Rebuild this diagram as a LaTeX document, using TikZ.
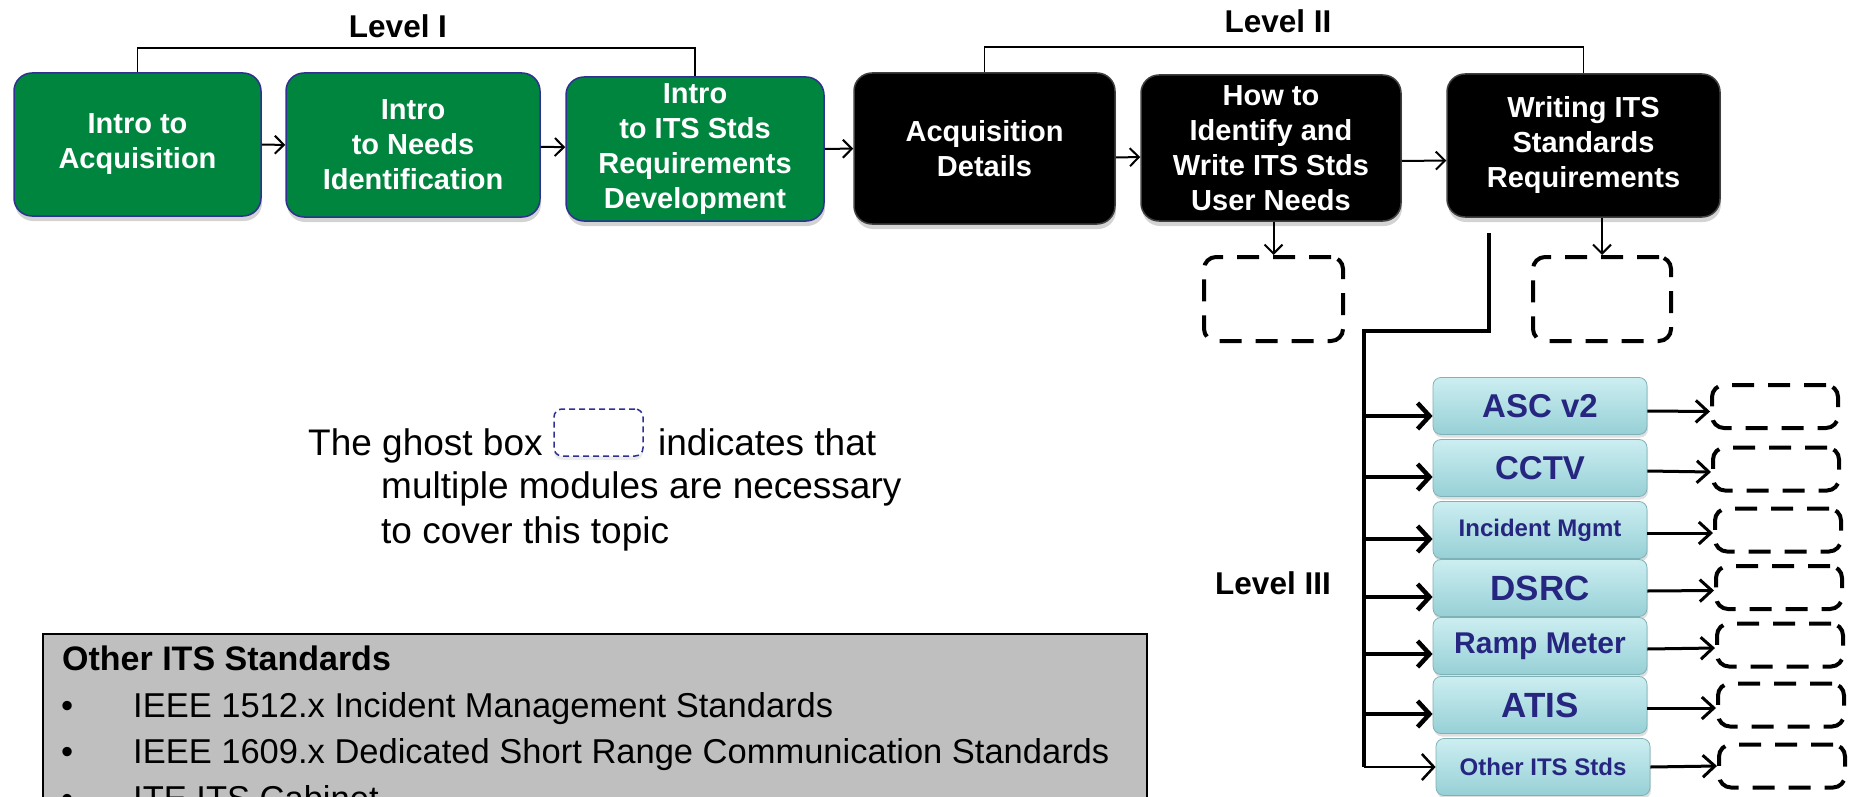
\documentclass[tikz,border=0pt]{standalone}
\usepackage{fontspec}
\setmainfont{Liberation Sans}
\usetikzlibrary{arrows.meta}
\usetikzlibrary{shadows}
\definecolor{itsgreen}{RGB}{0,133,62}
\definecolor{itsnavy}{RGB}{46,49,146}
\definecolor{stdtext}{RGB}{38,38,128}
\definecolor{stdtop}{RGB}{204,238,241}
\definecolor{stdbot}{RGB}{150,208,214}
\definecolor{panelgray}{RGB}{191,191,191}

\begin{document}
\begin{tikzpicture}[x=1pt, y=-1pt,
  level/.style={font=\bfseries\fontsize{31.5pt}{36pt}\selectfont},
  introbox/.style={rounded corners=18pt, fill=itsgreen, draw=itsnavy, line width=1.5pt, text=white, align=center, inner sep=2pt,
    font=\bfseries\fontsize{29pt}{35pt}\selectfont, drop shadow={shadow xshift=1pt, shadow yshift=-5pt, opacity=.35}},
  detailbox/.style={introbox, fill=black, draw=black!75},
  stdbox/.style={rounded corners=8pt, top color=stdtop, bottom color=stdbot, draw=stdbot!85!black, line width=.8pt, text=stdtext,
    minimum width=214pt, minimum height=57pt, inner sep=0pt, font=\bfseries\fontsize{33pt}{36pt}\selectfont,
    drop shadow={shadow xshift=1pt, shadow yshift=-3pt, opacity=.25}},
  smallstd/.style={font=\bfseries\fontsize{24pt}{26pt}\selectfont},
  bigstd/.style={font=\bfseries\fontsize{35pt}{38pt}\selectfont},
  ghost/.style={rounded corners=12pt, draw=black, line width=4pt, dash pattern=on 22pt off 14pt},
  keyghost/.style={rounded corners=8pt, draw=itsnavy, fill=white, line width=1.5pt, dash pattern=on 6pt off 4pt,
    drop shadow={shadow xshift=0pt, shadow yshift=-4pt, opacity=.15}},
  bracket/.style={draw=black, line width=1.5pt},
  flow/.style={-{Straight Barb[length=9pt,width=18pt]}, line width=2pt},
  stdarrow/.style={-{Straight Barb[length=12pt,width=22pt]}, line width=3pt},
  branch/.style={-{Straight Barb[length=12pt,width=26pt]}, line width=4.5pt},
  thinbranch/.style={branch, line width=2.5pt},
  trunkline/.style={line width=3.5pt},
  legendtext/.style={inner sep=0pt, font=\fontsize{37pt}{43pt}\selectfont},
  paneltext/.style={inner sep=0pt, font=\fontsize{34.5pt}{40pt}\selectfont},
  panel/.style={fill=panelgray, draw=black, line width=2pt}]
  \useasboundingbox (0,0) rectangle (1854,797);
  \clip (0,0) rectangle (1854,797);

  \node[introbox, minimum width=247pt, minimum height=143pt] (acqintro) at (137.5,144.5) {Intro to\\Acquisition};
  \node[introbox, minimum width=254pt, minimum height=144pt] (needsintro) at (413,145) {Intro\\to Needs\\Identification};
  \node[introbox, minimum width=258pt, minimum height=144pt] (reqintro) at (695,149) {Intro\\to ITS Stds\\Requirements\\Development};
  \node[detailbox, minimum width=261pt, minimum height=151pt] (acqdet) at (984.5,148.5) {Acquisition\\Details};
  \node[detailbox, minimum width=260pt, minimum height=146pt] (userneeds) at (1271,148) {How to\\Identify and\\Write ITS Stds\\User Needs};
  \node[detailbox, minimum width=273pt, minimum height=143pt] (writereq) at (1583.5,145.5) {Writing ITS\\Standards\\Requirements};

  \node[level] (lvlone) at (398,26) {Level I};
  \node[level] (lvltwo) at (1278,21) {Level II};
  \node[level] (lvlthree) at (1273,583) {Level III};

  \draw[bracket] (acqintro.north) -- ++(0,-24) -| (reqintro.north);
  \draw[bracket] (acqdet.north) -- ++(0,-25) -| (writereq.north);

  \draw[flow] (acqintro) -- (needsintro);
  \draw[flow] (needsintro) -- (reqintro);
  \draw[flow] (reqintro) -- (acqdet);
  \draw[flow] ([yshift=-9pt]acqdet.east) -- ([yshift=-9pt]userneeds.west);
  \draw[flow] ([yshift=-13pt]userneeds.east) -- ([yshift=-15pt]writereq.west);

  \node[ghost, minimum width=139pt, minimum height=84pt] (needsghost) at (1273.5,299) {};
  \node[ghost, minimum width=138pt, minimum height=84pt] (reqghost) at (1602,299) {};
  \draw[flow] (userneeds.south -| needsghost.north) -- (needsghost.north);
  \draw[flow] (writereq.south -| reqghost.north) -- (reqghost.north);

  \node[stdbox] (asc) at (1540,406) {ASC v2};
  \node[stdbox] (cctv) at (1540,468) {CCTV};
  \node[stdbox, smallstd] (incid) at (1540,530) {Incident Mgmt};
  \node[stdbox, bigstd] (dsrc) at (1540,588) {DSRC};
  \node[stdbox, font=\bfseries\fontsize{30pt}{32pt}\selectfont] (ramp) at (1540,646) {Ramp Meter};
  \node[stdbox, bigstd] (atis) at (1540,705) {ATIS};
  \node[stdbox, smallstd] (oits) at (1543,767) {Other ITS Stds};

  \node[ghost, minimum width=126pt, minimum height=43pt] (gasc) at (1775,406.5) {};
  \node[ghost, minimum width=126pt, minimum height=43pt] (gcctv) at (1776,469) {};
  \node[ghost, minimum width=126pt, minimum height=43pt] (gincid) at (1778,530) {};
  \node[ghost, minimum width=126pt, minimum height=43pt] (gdsrc) at (1779,587.5) {};
  \node[ghost, minimum width=126pt, minimum height=43pt] (gramp) at (1780,645) {};
  \node[ghost, minimum width=126pt, minimum height=43pt] (gatis) at (1781,705) {};
  \node[ghost, minimum width=126pt, minimum height=43pt] (goits) at (1782,766) {};

  \coordinate (split) at (1489,233);
  \coordinate (trunk) at (1364,331);
  \draw[trunkline] (split) |- (trunk) -- (trunk |- oits.west);
  \draw[branch] ([yshift=-10pt]trunk |- asc.west) -- ([yshift=-10pt]asc.west);
  \draw[branch] ([yshift=-9pt]trunk |- cctv.west) -- ([yshift=-9pt]cctv.west);
  \draw[branch] ([yshift=-9pt]trunk |- incid.west) -- ([yshift=-9pt]incid.west);
  \draw[branch] ([yshift=-9pt]trunk |- dsrc.west) -- ([yshift=-9pt]dsrc.west);
  \draw[branch] ([yshift=-8pt]trunk |- ramp.west) -- ([yshift=-8pt]ramp.west);
  \draw[branch] ([yshift=-9pt]trunk |- atis.west) -- ([yshift=-9pt]atis.west);
  \draw[thinbranch] (trunk |- oits.west) -- (oits.west);

  \draw[stdarrow] ([yshift=-5pt]asc.east) -- ([yshift=-5pt]gasc.west);
  \draw[stdarrow] ([yshift=-3pt]cctv.east) -- ([yshift=-3pt]gcctv.west);
  \draw[stdarrow] ([yshift=-3pt]incid.east) -- ([yshift=-3pt]gincid.west);
  \draw[stdarrow] ([yshift=-3pt]dsrc.east) -- ([yshift=-3pt]gdsrc.west);
  \draw[stdarrow] ([yshift=-3pt]ramp.east) -- ([yshift=-3pt]gramp.west);
  \draw[stdarrow] ([yshift=-3pt]atis.east) -- ([yshift=-3pt]gatis.west);
  \draw[stdarrow] (oits.east) -- (goits.west);

  \node[legendtext, anchor=base west] (keyone) at (308,455) {The ghost box};
  \node[keyghost, minimum width=89pt, minimum height=47pt] (keybox) at (598.5,432.5) {};
  \node[legendtext, anchor=base west] (keytwo) at (658,455) {indicates that};
  \node[legendtext, anchor=base west] (keythree) at (381,498) {multiple modules are necessary};
  \node[legendtext, anchor=base west] (keyfour) at (381,543) {to cover this topic};

  \node[panel, anchor=north west, minimum width=1104pt, minimum height=220pt] (otherpanel) at (42,633) {};
  \node[paneltext, font=\bfseries\fontsize{34pt}{36pt}\selectfont, anchor=base west] (paneltitle) at (62,670) {Other ITS Standards};
  \node[paneltext, anchor=base west] (bulletone) at (61,717) {\textbullet};
  \node[paneltext, anchor=base west] (itemone) at (133,717) {IEEE 1512.x Incident Management Standards};
  \node[paneltext, anchor=base west] (bullettwo) at (61,763) {\textbullet};
  \node[paneltext, anchor=base west] (itemtwo) at (133,763) {IEEE 1609.x Dedicated Short Range Communication Standards};
  \node[paneltext, anchor=base west] (bulletthree) at (61,810) {\textbullet};
  \node[paneltext, anchor=base west] (itemthree) at (133,810) {ITE ITS Cabinet};
\end{tikzpicture}
\end{document}
